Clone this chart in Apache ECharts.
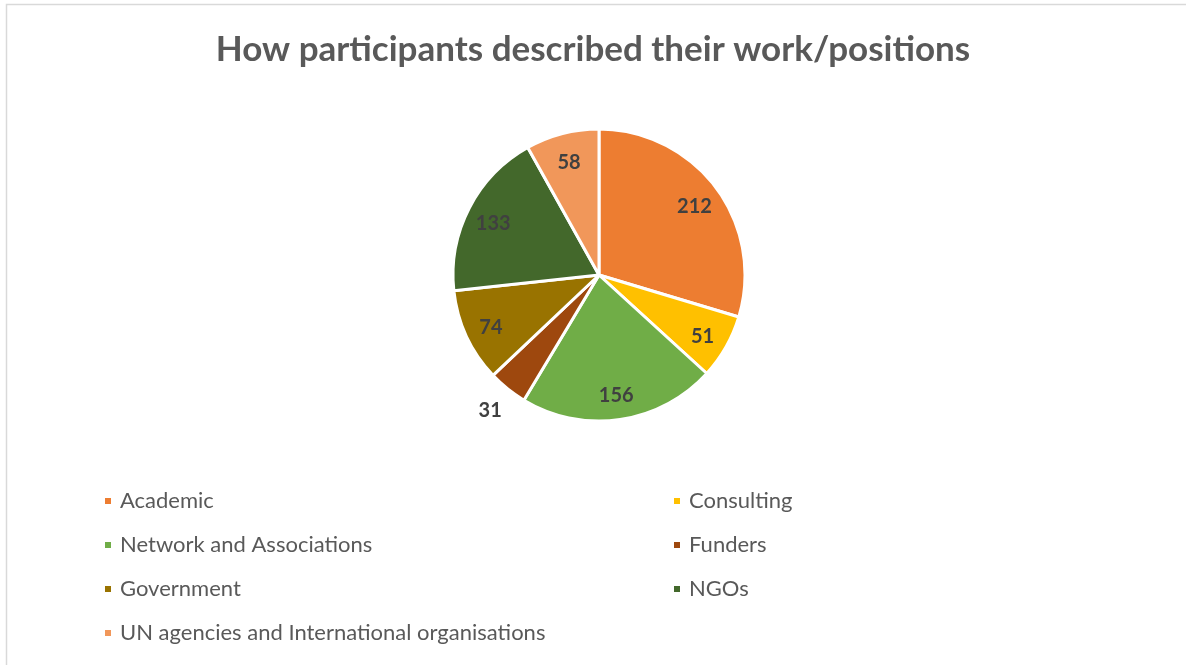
<!DOCTYPE html>
<html>
<head>
<meta charset="utf-8">
<script src="https://cdn.jsdelivr.net/npm/echarts@6/dist/echarts.min.js"></script>
<style>
html,body{margin:0;padding:0;background:#fff;}
#chart{width:1186px;height:665px;}
</style>
</head>
<body>
<div id="chart"></div>
<script>
const titleText = 'How participants described their work/positions';
const categories = ['Academic', 'Consulting', 'Network and Associations', 'Funders', 'Government', 'NGOs', 'UN agencies and International organisations'];
const values = [212, 51, 156, 31, 74, 133, 58];
const leftLegend = ['Academic', 'Network and Associations', 'Government', 'UN agencies and International organisations'];
const rightLegend = ['Consulting', 'Funders', 'NGOs'];
const outsideLabels = ['Funders'];

const palette = ['#ED7D31', '#FFC000', '#70AD47', '#9E480E', '#997300', '#43682B', '#F1975A'];
const FONT = 'Lato, Carlito, "Open Sans", sans-serif';

const pieData = categories.map((c, i) => ({
  name: c, value: values[i], itemStyle: { color: palette[i] }
}));

const chart = echarts.init(document.getElementById('chart'), null, { renderer: 'canvas' });

const labelStyle = { fontFamily: FONT, fontWeight: 'bold', fontSize: 20, color: '#404040' };
const legendText = { fontFamily: FONT, fontSize: 22, color: '#595959', lineHeight: 24, padding: [0, 0, 0, 3] };

chart.setOption({
  animation: false,
  backgroundColor: '#ffffff',
  title: {
    text: titleText, left: 'center', top: 27,
    textStyle: { fontFamily: FONT, fontWeight: 'bold', fontSize: 35, color: '#595959' }
  },
  graphic: [{
    type: 'rect', shape: { x: 6.5, y: 4.5, width: 1200, height: 700 },
    style: { fill: 'none', stroke: '#d9d9d9', lineWidth: 1.5 }, silent: true
  }],
  legend: [
    { orient: 'vertical', left: 98, top: 484, data: leftLegend, icon: 'rect',
      itemWidth: 8, itemHeight: 8, itemGap: 20, selectedMode: false, textStyle: legendText },
    { orient: 'vertical', left: 667, top: 484, data: rightLegend, icon: 'rect',
      itemWidth: 8, itemHeight: 8, itemGap: 20, selectedMode: false, textStyle: legendText }
  ],
  series: [
    {
      type: 'pie', center: [599, 275], radius: [0, 146], startAngle: 90, clockwise: true,
      avoidLabelOverlap: false,
      itemStyle: { borderColor: '#ffffff', borderWidth: 3 },
      data: pieData.map(d => Object.assign({}, d, {
        label: outsideLabels.includes(d.name)
          ? Object.assign({ show: true, position: 'outside', formatter: '{c}' }, labelStyle)
          : { show: false },
        labelLine: { show: false, length: 14, length2: 0 }
      })),
      labelLayout: function (p) {
        if (outsideLabels.includes(categories[p.dataIndex])) return { dx: 8, dy: 11 };
        return {};
      },
      emphasis: { disabled: true }
    },
    {
      type: 'pie', center: [599, 278], radius: [86, 146], startAngle: 90, clockwise: true,
      silent: true, avoidLabelOverlap: false,
      itemStyle: { color: 'rgba(0,0,0,0)', borderWidth: 0 },
      label: Object.assign({ show: true, position: 'inside', formatter: '{c}' }, labelStyle),
      labelLine: { show: false },
      data: categories.map((c, i) => ({
        name: c, value: values[i],
        label: { show: !outsideLabels.includes(c) }
      })),
      emphasis: { disabled: true }
    }
  ]
});
</script>
</body>
</html>
